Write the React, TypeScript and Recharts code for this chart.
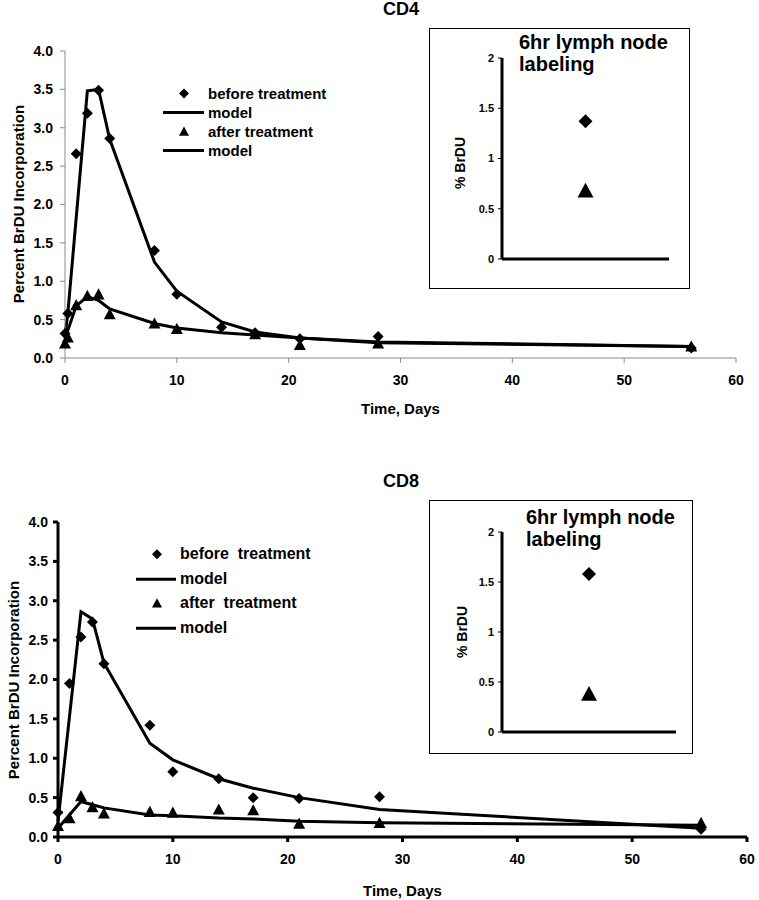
import React from "react";
import { ComposedChart, ScatterChart, Line, Scatter, XAxis, YAxis, Legend, Label } from "recharts";

const FONT = '"Liberation Sans", Arial, Helvetica, sans-serif';

// CD4 panel
const cd4BeforeDays = [0, 0.25, 1, 2, 3, 4, 8, 10, 14, 17, 21, 28, 56];
const cd4Before = [0.32, 0.58, 2.66, 3.19, 3.49, 2.86, 1.4, 0.83, 0.4, 0.33, 0.25, 0.28, 0.13];
const cd4BeforeModelDays = [0, 0.25, 2, 3, 4, 8, 10, 14, 17, 21, 28, 56];
const cd4BeforeModel = [0.3, 0.58, 3.48, 3.5, 2.85, 1.25, 0.87, 0.47, 0.34, 0.26, 0.2, 0.15];
const cd4AfterDays = [0, 0.25, 1, 2, 3, 4, 8, 10, 17, 21, 28, 56];
const cd4After = [0.19, 0.27, 0.69, 0.81, 0.83, 0.57, 0.45, 0.38, 0.31, 0.17, 0.19, 0.15];
const cd4AfterModelDays = [0, 1, 2, 3, 4, 8, 10, 14, 17, 21, 28, 56];
const cd4AfterModel = [0.25, 0.68, 0.8, 0.75, 0.64, 0.45, 0.39, 0.33, 0.3, 0.26, 0.21, 0.15];
const cd4Inset = [1.37, 0.68]; // before, after

// CD8 panel
const cd8BeforeDays = [0, 1, 2, 3, 4, 8, 10, 14, 17, 21, 28, 56];
const cd8Before = [0.31, 1.95, 2.54, 2.73, 2.2, 1.42, 0.83, 0.74, 0.5, 0.49, 0.51, 0.1];
const cd8BeforeModelDays = [0, 2, 3, 4, 8, 10, 14, 17, 21, 28, 56];
const cd8BeforeModel = [0.2, 2.86, 2.77, 2.21, 1.19, 0.98, 0.74, 0.62, 0.5, 0.35, 0.11];
const cd8AfterDays = [0, 1, 2, 3, 4, 8, 10, 14, 17, 21, 28, 56];
const cd8After = [0.14, 0.24, 0.52, 0.38, 0.3, 0.32, 0.31, 0.35, 0.34, 0.17, 0.18, 0.18];
const cd8AfterModelDays = [0, 2, 3, 4, 8, 10, 14, 17, 21, 28, 56];
const cd8AfterModel = [0.11, 0.45, 0.41, 0.37, 0.28, 0.27, 0.24, 0.23, 0.2, 0.18, 0.15];
const cd8Inset = [1.58, 0.38];

const xTicks = [0, 10, 20, 30, 40, 50, 60];
const yTicks = [0, 0.5, 1, 1.5, 2, 2.5, 3, 3.5, 4];
const insetTicks = [0, 0.5, 1, 1.5, 2];
const cd4LegendLabels = ["before treatment", "model", "after treatment", "model"];
const cd8LegendLabels = ["before  treatment", "model", "after  treatment", "model"];
const legendKinds = ["diamond", "line", "triangle", "line"];

const toPoints = (xs: number[], ys: number[]) => xs.map((x, i) => ({ x, y: ys[i] }));

const diamond = (r: number) => (p: any) => (
  <polygon
    points={`${p.cx},${p.cy - r} ${p.cx + r},${p.cy} ${p.cx},${p.cy + r} ${p.cx - r},${p.cy}`}
    fill="#000"
  />
);
const triangle = (r: number) => (p: any) => (
  <polygon
    points={`${p.cx},${p.cy - r} ${p.cx + r},${p.cy + r * 0.85} ${p.cx - r},${p.cy + r * 0.85}`}
    fill="#000"
  />
);

// rotated axis title as plain html text
const VLabel = ({ x, y, size, children }: any) => (
  <div
    style={{
      position: "absolute",
      left: x,
      top: y,
      transform: "translate(-50%, -50%) rotate(-90deg)",
      fontFamily: FONT,
      fontWeight: "bold",
      fontSize: size,
      lineHeight: 1,
      whiteSpace: "nowrap",
      color: "#000",
    }}
  >
    {children}
  </div>
);

const LegendBox = ({ labels, rowH, iconW, mark, fontSize }: any) => (
  <div style={{ fontFamily: FONT, fontWeight: "bold", fontSize, color: "#000" }}>
    {labels.map((t: string, i: number) => (
      <div key={i} style={{ display: "flex", alignItems: "center", height: rowH }}>
        <svg width={iconW} height={rowH} style={{ marginRight: 4 }}>
          {legendKinds[i] === "line" && (
            <line x1={0} x2={iconW} y1={rowH / 2} y2={rowH / 2} stroke="#000" strokeWidth={3} />
          )}
          {legendKinds[i] === "diamond" && diamond(mark)({ cx: mark + 16, cy: rowH / 2 })}
          {legendKinds[i] === "triangle" && triangle(mark)({ cx: mark + 16, cy: rowH / 2 })}
        </svg>
        <span style={{ whiteSpace: "pre" }}>{t}</span>
      </div>
    ))}
  </div>
);

const Inset = ({ values, box, plot, title }: any) => {
  const before = [{ x: 1, y: values[0] }];
  const after = [{ x: 1, y: values[1] }];
  return (
    <div
      style={{
        position: "absolute",
        left: box.left,
        top: box.top,
        width: box.w,
        height: box.h,
        border: "1px solid #000",
        background: "#fff",
      }}
    >
      <ScatterChart
        width={box.w}
        height={box.h}
        margin={{ top: plot.top, right: plot.right, bottom: 0, left: 0 }}
        style={{ fontFamily: FONT }}
      >
        <XAxis
          type="number"
          dataKey="x"
          domain={[0, 2]}
          tick={false}
          tickLine={false}
          height={plot.bottom}
          axisLine={{ stroke: "#000", strokeWidth: 3 }}
        />
        <YAxis
          type="number"
          dataKey="y"
          domain={[0, 2]}
          ticks={insetTicks}
          width={72}
          tickSize={4}
          tickMargin={4}
          axisLine={{ stroke: "#000", strokeWidth: 3 }}
          tickLine={{ stroke: "#000", strokeWidth: 1 }}
          tick={{ fontSize: 11, fontWeight: "bold", fill: "#000", fontFamily: FONT }}
        />
        <Scatter data={before} shape={diamond(7)} isAnimationActive={false} />
        <Scatter data={after} shape={triangle(8)} isAnimationActive={false} />
      </ScatterChart>
      <VLabel x={plot.labelX} y={plot.labelY} size={14}>
        % BrDU
      </VLabel>
      <div
        style={{
          position: "absolute",
          left: title.left,
          top: title.top,
          fontFamily: FONT,
          fontWeight: "bold",
          fontSize: 20,
          lineHeight: "22px",
          color: "#000",
          whiteSpace: "nowrap",
        }}
      >
        6hr lymph node
        <br />
        labeling
      </div>
    </div>
  );
};

const Panel = ({ cfg }: any) => {
  const axisStyle = cfg.heavy
    ? { stroke: "#000", strokeWidth: 3 }
    : { stroke: "#8a8a8a", strokeWidth: 1 };
  const tickStyle = { fontSize: 14, fontWeight: "bold", fill: "#000", fontFamily: FONT };
  return (
    <div style={{ position: "absolute", left: 0, top: cfg.top, width: 759, height: cfg.height }}>
      <ComposedChart
        width={759}
        height={cfg.height}
        margin={{ top: cfg.plotTop, right: cfg.right, bottom: 0, left: 0 }}
        style={{ fontFamily: FONT }}
      >
        <XAxis
          type="number"
          dataKey="x"
          domain={[0, 60]}
          ticks={xTicks}
          height={cfg.xAxisH}
          tickSize={5}
          tickMargin={cfg.tickGap}
          axisLine={axisStyle}
          tickLine={axisStyle}
          tick={tickStyle}
        >
          <Label
            value="Time, Days"
            position="insideBottom"
            offset={cfg.titleOffset}
            style={{ fontSize: 15, fontWeight: "bold", fill: "#000", fontFamily: FONT }}
          />
        </XAxis>
        <YAxis
          type="number"
          dataKey="y"
          domain={[0, 4]}
          ticks={yTicks}
          width={cfg.yAxisW}
          tickSize={5}
          tickMargin={cfg.yTickGap}
          tickFormatter={(v: number) => v.toFixed(1)}
          axisLine={axisStyle}
          tickLine={axisStyle}
          tick={tickStyle}
        />
        <Legend
          layout="horizontal"
          verticalAlign="middle"
          align="center"
          wrapperStyle={{ left: cfg.legend.left, top: cfg.legend.top, width: 280, height: "auto" }}
          content={() => (
            <LegendBox
              labels={cfg.legend.labels}
              rowH={cfg.legend.rowH}
              iconW={cfg.legend.iconW}
              mark={5}
              fontSize={cfg.legend.fontSize}
            />
          )}
        />
        <Line data={cfg.beforeModel} dataKey="y" type="linear" stroke="#000" strokeWidth={3} dot={false} isAnimationActive={false} />
        <Line data={cfg.afterModel} dataKey="y" type="linear" stroke="#000" strokeWidth={3} dot={false} isAnimationActive={false} />
        <Scatter data={cfg.before} dataKey="y" shape={diamond(5.5)} isAnimationActive={false} />
        <Scatter data={cfg.after} dataKey="y" shape={triangle(6)} isAnimationActive={false} />
      </ComposedChart>
      <VLabel x={cfg.labelX} y={cfg.labelY} size={15}>
        Percent BrDU Incorporation
      </VLabel>
      <div
        style={{
          position: "absolute",
          left: 0,
          width: 802,
          top: cfg.titleTop,
          textAlign: "center",
          fontFamily: FONT,
          fontWeight: "bold",
          fontSize: 18,
          color: "#000",
        }}
      >
        {cfg.title}
      </div>
      <Inset values={cfg.inset} box={cfg.insetBox} plot={cfg.insetPlot} title={cfg.insetTitle} />
    </div>
  );
};

const cd4Cfg = {
  title: "CD4",
  top: 0,
  height: 420,
  plotTop: 51,
  right: 23,
  xAxisH: 62,
  yAxisW: 65,
  tickGap: 12,
  yTickGap: 7,
  titleOffset: 6,
  titleTop: -1,
  labelX: 18,
  labelY: 204,
  heavy: false,
  before: toPoints(cd4BeforeDays, cd4Before),
  beforeModel: toPoints(cd4BeforeModelDays, cd4BeforeModel),
  after: toPoints(cd4AfterDays, cd4After),
  afterModel: toPoints(cd4AfterModelDays, cd4AfterModel),
  legend: { left: 163, top: 84, rowH: 19, iconW: 41, fontSize: 15, labels: cd4LegendLabels },
  inset: cd4Inset,
  insetBox: { left: 429, top: 28, w: 259, h: 259 },
  insetPlot: { top: 29, right: 20, bottom: 29, labelX: 30, labelY: 134 },
  insetTitle: { left: 89, top: 2 },
};

const cd8Cfg = {
  title: "CD8",
  top: 460,
  height: 440,
  plotTop: 62,
  right: 12,
  xAxisH: 63,
  yAxisW: 58,
  tickGap: 12,
  yTickGap: 5,
  titleOffset: 4,
  titleTop: 11,
  labelX: 13,
  labelY: 220,
  heavy: true,
  before: toPoints(cd8BeforeDays, cd8Before),
  beforeModel: toPoints(cd8BeforeModelDays, cd8BeforeModel),
  after: toPoints(cd8AfterDays, cd8After),
  afterModel: toPoints(cd8AfterModelDays, cd8AfterModel),
  legend: { left: 136, top: 82, rowH: 24.5, iconW: 40, fontSize: 16, labels: cd8LegendLabels },
  inset: cd8Inset,
  insetBox: { left: 429, top: 40, w: 262, h: 252 },
  insetPlot: { top: 31, right: 16, bottom: 21, labelX: 32, labelY: 131 },
  insetTitle: { left: 96, top: 5 },
};

export default function App() {
  return (
    <div style={{ position: "absolute", left: 0, top: 0, width: 759, height: 900, background: "#fff" }}>
      <Panel cfg={cd4Cfg} />
      <Panel cfg={cd8Cfg} />
    </div>
  );
}
